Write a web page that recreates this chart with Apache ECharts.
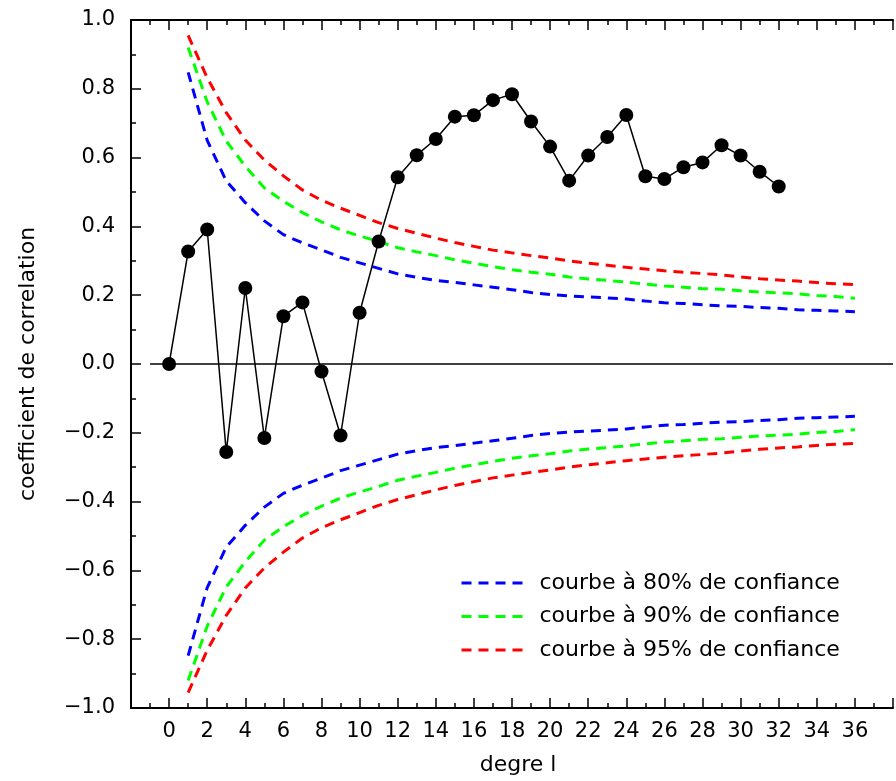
<!DOCTYPE html>
<html>
<head>
<meta charset="utf-8">
<script src="https://cdn.jsdelivr.net/npm/echarts@6/dist/echarts.min.js"></script>
<style>
html,body{margin:0;padding:0;background:#fff;}
#chart{width:896px;height:781px;}
</style>
</head>
<body>
<div id="chart"></div>
<script>
// ---- data ----
const lags = [0,1,2,3,4,5,6,7,8,9,10,11,12,13,14,15,16,17,18,19,20,21,22,23,24,25,26,27,28,29,30,31,32];
const corr = [0.0,0.327,0.391,-0.256,0.221,-0.215,0.139,0.179,-0.022,-0.208,0.149,0.356,0.543,0.607,0.654,0.719,0.723,0.767,0.784,0.705,0.632,0.533,0.606,0.660,0.724,0.546,0.538,0.572,0.586,0.636,0.606,0.559,0.516];

const confLags = [1,2,3,4,5,6,7,8,9,10,11,12,13,14,15,16,17,18,19,20,21,22,23,24,25,26,27,28,29,30,31,32,33,34,35,36];
const upper80 = [0.848,0.650,0.532,0.469,0.416,0.376,0.352,0.332,0.310,0.294,0.278,0.262,0.252,0.243,0.237,0.230,0.223,0.216,0.208,0.202,0.198,0.195,0.192,0.189,0.183,0.178,0.176,0.172,0.169,0.168,0.164,0.162,0.158,0.156,0.154,0.152];
const lower80 = [-0.848,-0.650,-0.532,-0.469,-0.416,-0.376,-0.352,-0.332,-0.310,-0.294,-0.278,-0.262,-0.252,-0.243,-0.237,-0.230,-0.223,-0.216,-0.208,-0.202,-0.198,-0.195,-0.192,-0.189,-0.183,-0.178,-0.176,-0.172,-0.169,-0.168,-0.164,-0.162,-0.158,-0.156,-0.154,-0.152];
const upper90 = [0.920,0.762,0.648,0.575,0.512,0.473,0.440,0.413,0.390,0.372,0.356,0.338,0.326,0.315,0.303,0.293,0.283,0.274,0.267,0.261,0.253,0.247,0.243,0.238,0.232,0.227,0.223,0.219,0.217,0.213,0.209,0.207,0.204,0.199,0.196,0.191];
const lower90 = [-0.920,-0.762,-0.648,-0.575,-0.512,-0.473,-0.440,-0.413,-0.390,-0.372,-0.356,-0.338,-0.326,-0.315,-0.303,-0.293,-0.283,-0.274,-0.267,-0.261,-0.253,-0.247,-0.243,-0.238,-0.232,-0.227,-0.223,-0.219,-0.217,-0.213,-0.209,-0.207,-0.204,-0.199,-0.196,-0.191];
const upper95 = [0.955,0.832,0.731,0.651,0.593,0.547,0.506,0.476,0.453,0.432,0.411,0.394,0.380,0.366,0.353,0.342,0.331,0.323,0.315,0.308,0.300,0.293,0.287,0.281,0.276,0.271,0.267,0.263,0.259,0.253,0.248,0.244,0.241,0.237,0.233,0.231];
const lower95 = [-0.955,-0.832,-0.731,-0.651,-0.593,-0.547,-0.506,-0.476,-0.453,-0.432,-0.411,-0.394,-0.380,-0.366,-0.353,-0.342,-0.331,-0.323,-0.315,-0.308,-0.300,-0.293,-0.287,-0.281,-0.276,-0.271,-0.267,-0.263,-0.259,-0.253,-0.248,-0.244,-0.241,-0.237,-0.233,-0.231];

const zeroLineX = [-1, 38];
const zeroLineY = [0, 0];

const xTickValues = [0,2,4,6,8,10,12,14,16,18,20,22,24,26,28,30,32,34,36];
const xTickLabels = ['0','2','4','6','8','10','12','14','16','18','20','22','24','26','28','30','32','34','36'];
const yTickValues = [-1.0,-0.8,-0.6,-0.4,-0.2,0.0,0.2,0.4,0.6,0.8,1.0];
const yTickLabels = ['\u22121.0','\u22120.8','\u22120.6','\u22120.4','\u22120.2','0.0','0.2','0.4','0.6','0.8','1.0'];

const names = ['courbe à 80% de confiance','courbe à 90% de confiance','courbe à 95% de confiance'];
const xTitle = 'degre l';
const yTitle = 'coefficient de correlation';

// ---- chart ----
const FONT = 'DejaVu Sans';
const chart = echarts.init(document.getElementById('chart'), null, {renderer: 'canvas'});

function pairs(xs, ys){ return xs.map((x,i)=>[x, ys[i]]); }
function xLabel(v){ const i = xTickValues.findIndex(t=>Math.abs(t-v)<1e-6); return i>=0 ? xTickLabels[i] : ''; }
function yLabel(v){ const i = yTickValues.findIndex(t=>Math.abs(t-v)<1e-6); return i>=0 ? yTickLabels[i] : ''; }

function confSeries(name, color, ys){
  return {
    name: name, type: 'line', data: pairs(confLags, ys), symbol: 'none', smooth: false,
    lineStyle: {color: color, width: 3, type: [10,7]}, itemStyle: {color: color},
    z: 2, silent: true, animation: false
  };
}

const axisLine = {show: true, onZero: false, lineStyle: {color: '#000', width: 2}};

chart.setOption({
  animation: false,
  backgroundColor: '#fff',
  grid: {left: 131, right: -10, top: 20, bottom: 68, containLabel: false},
  legend: {
    data: names, orient: 'vertical', left: 460, top: 572, padding: 0,
    itemWidth: 62, itemHeight: 20, itemGap: 11.5,
    itemStyle: {opacity: 0},
    lineStyle: {width: 3, type: [10,7]},
    textStyle: {fontFamily: FONT, fontSize: 22, color: '#000', padding: [0,0,0,11]},
    selectedMode: false
  },
  xAxis: [
    {
      type: 'value', min: -2, max: 38, interval: 2, position: 'bottom',
      axisLine: axisLine,
      axisTick: {show: true, inside: true, length: 10, lineStyle: {color: '#000', width: 1.5}},
      minorTick: {show: true, splitNumber: 2, length: 5, lineStyle: {color: '#000', width: 1.5}},
      axisLabel: {formatter: xLabel, fontFamily: FONT, fontSize: 21, color: '#000', margin: 13},
      splitLine: {show: false}, minorSplitLine: {show: false},
      name: xTitle, nameLocation: 'middle', nameGap: 46,
      nameTextStyle: {fontFamily: FONT, fontSize: 22, color: '#000', padding: [0,0,0,12]}
    },
    {
      type: 'value', min: -2, max: 38, interval: 2, position: 'top',
      axisLine: axisLine,
      axisTick: {show: true, inside: true, length: 10, lineStyle: {color: '#000', width: 1.5}},
      minorTick: {show: true, splitNumber: 2, length: 5, lineStyle: {color: '#000', width: 1.5}},
      axisLabel: {show: false}, splitLine: {show: false}
    }
  ],
  yAxis: [
    {
      type: 'value', min: -1, max: 1, interval: 0.2, position: 'left',
      axisLine: axisLine,
      axisTick: {show: true, inside: true, length: 10, lineStyle: {color: '#000', width: 1.5}},
      minorTick: {show: true, splitNumber: 2, length: 5, lineStyle: {color: '#000', width: 1.5}},
      axisLabel: {formatter: yLabel, fontFamily: FONT, fontSize: 21, color: '#000', margin: 16},
      splitLine: {show: false}, minorSplitLine: {show: false},
      name: yTitle, nameLocation: 'middle', nameGap: 92, nameRotate: 90,
      nameTextStyle: {fontFamily: FONT, fontSize: 22, color: '#000'}
    }
  ],
  series: [
    {
      name: 'zero', type: 'line', data: pairs(zeroLineX, zeroLineY), symbol: 'none',
      lineStyle: {color: '#000', width: 1.5}, z: 1, silent: true
    },
    confSeries(names[0], '#0000ff', upper80),
    confSeries(names[0], '#0000ff', lower80),
    confSeries(names[1], '#00ff00', upper90),
    confSeries(names[1], '#00ff00', lower90),
    confSeries(names[2], '#ff0000', upper95),
    confSeries(names[2], '#ff0000', lower95),
    {
      name: 'corr', type: 'line', data: pairs(lags, corr),
      symbol: 'circle', symbolSize: 14,
      lineStyle: {color: '#000', width: 1.5}, itemStyle: {color: '#000'},
      z: 5, silent: true
    }
  ]
});
</script>
</body>
</html>
